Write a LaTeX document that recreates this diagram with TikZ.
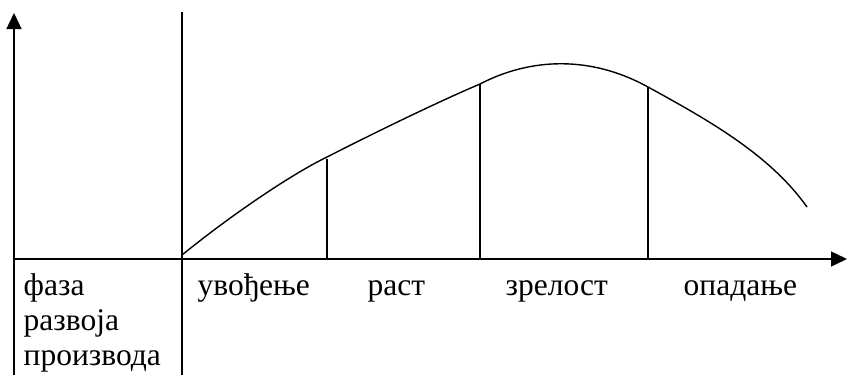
\documentclass[tikz,border=0pt]{standalone}
\usepackage{fontspec}
\setmainfont{Liberation Serif}
\usetikzlibrary{arrows.meta}
\begin{document}
\begin{tikzpicture}[x=1pt,y=-1pt, line width=1.4pt,
  lbl/.style={anchor=base west, inner sep=0pt, font=\fontsize{31.5}{35}\selectfont},
  axis/.style={-{Triangle[length=16pt,width=15pt]}}]
\useasboundingbox (0,0) rectangle (848,375);
\coordinate (o) at (14,259);
\coordinate (ytop) at (14,13);
\coordinate (ybot) at (14,375);
\coordinate (xend) at (847,259);
\coordinate (dtop) at (182,12);
\coordinate (dbot) at (182,375);
\coordinate (c0) at (182,255);
\coordinate (c1) at (327,157);
\coordinate (c2) at (480,84);
\coordinate (c3) at (648,87);
\coordinate (c4) at (807,207);
\coordinate (v1t) at (327,159);
\coordinate (v1b) at (327,259);
\coordinate (v2t) at (480,84);
\coordinate (v2b) at (480,259);
\coordinate (v3t) at (648,87);
\coordinate (v3b) at (648,259);
\draw[axis] (ybot) -- (ytop);
\draw[axis] (o) -- (xend);
\draw (dtop) -- (dbot);
\draw (c0) .. controls (230,216) and (290,175) .. (c1)
           .. controls (380,130) and (440,101) .. (c2)
           .. controls (530,58) and (590,55) .. (c3)
           .. controls (710,121) and (770,155) .. (c4);
\draw (v1t) -- (v1b);
\draw (v2t) -- (v2b);
\draw (v3t) -- (v3b);
\node[lbl] (f1) at (23,295) {фаза};
\node[lbl] (f2) at (23,330) {развоја};
\node[lbl] (f3) at (23,365) {производа};
\node[lbl] (t1) at (197,295) {увођење};
\node[lbl] (t2) at (367,295) {раст};
\node[lbl] (t3) at (505,295) {зрелост};
\node[lbl] (t4) at (683,295) {опадање};
\end{tikzpicture}
\end{document}
